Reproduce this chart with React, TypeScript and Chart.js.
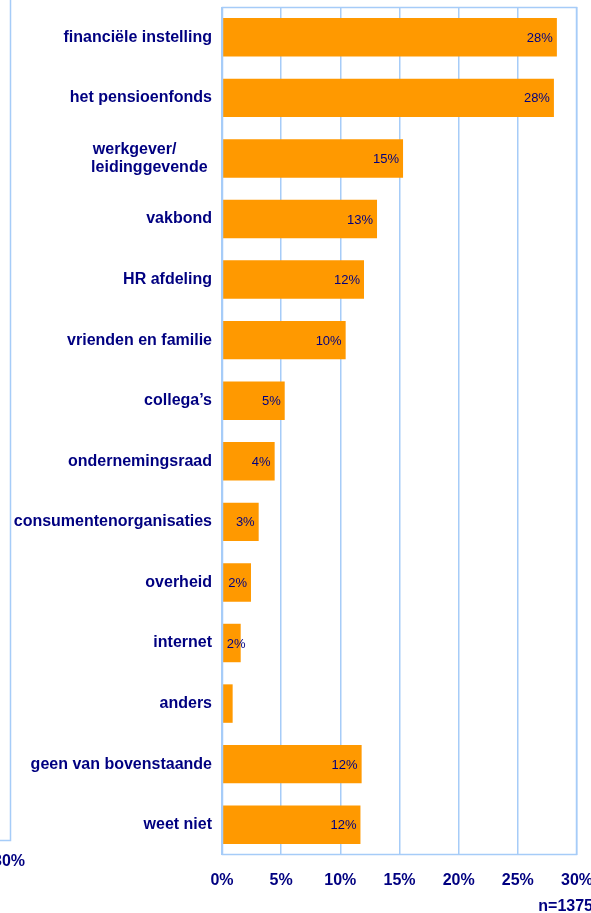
import React, { useEffect, useRef } from "react";
import { Chart, registerables } from "chart.js";

Chart.register(...registerables);

const categories: (string | string[])[] = [
  "financiële instelling",
  "het pensioenfonds",
  ["werkgever/        ", "leidinggevende "],
  "vakbond",
  "HR afdeling",
  "vrienden en familie",
  "collega’s",
  "ondernemingsraad",
  "consumentenorganisaties",
  "overheid",
  "internet",
  "anders",
  "geen van bovenstaande",
  "weet niet",
];

const values: number[] = [28.3, 28.05, 15.3, 13.1, 12.0, 10.45, 5.3, 4.45, 3.1, 2.45, 1.58, 0.9, 11.8, 11.7];

const xTickLabels: string[] = ["0%", "5%", "10%", "15%", "20%", "25%", "30%"];

const sampleNote = "n=1375";
const ghostTick = "30%";

const NAVY = "#000080";
const GRID = "#A6CCF8";
const BAR = "#FF9900";
const FONT = "'Liberation Sans', Arial, sans-serif";

const extrasPlugin = {
  id: "extras",
  afterDraw(chart: any) {
    const { ctx, chartArea } = chart;
    ctx.save();
    // plot box
    ctx.strokeStyle = GRID;
    ctx.lineWidth = 1.5;
    ctx.strokeRect(
      Math.round(chartArea.left) + 0.5,
      Math.round(chartArea.top) + 0.5,
      Math.round(chartArea.right - chartArea.left) - 1,
      Math.round(chartArea.bottom - chartArea.top) - 1
    );
    // remnant of neighbouring chart at left edge
    ctx.beginPath();
    ctx.moveTo(10.5, 0);
    ctx.lineTo(10.5, 840.5);
    ctx.lineTo(0, 840.5);
    ctx.stroke();
    ctx.fillStyle = NAVY;
    ctx.font = `bold 16px ${FONT}`;
    ctx.textAlign = "center";
    ctx.textBaseline = "middle";
    ctx.fillText(ghostTick, 9, 862);
    // sample note
    ctx.textAlign = "right";
    ctx.fillText(sampleNote, 593, 907);

    // data labels
    const meta = chart.getDatasetMeta(0);
    ctx.font = `13px ${FONT}`;
    ctx.textAlign = "left";
    ctx.textBaseline = "middle";
    meta.data.forEach((bar: any, i: number) => {
      const v = values[i];
      if (v < 1) return;
      const txt = Math.round(v) + "%";
      const w = ctx.measureText(txt).width;
      let x = bar.x - 4 - w;
      if (x < bar.base + 4) x = bar.base + 4;
      ctx.fillText(txt, x, bar.y + 1);
    });
    ctx.restore();
  },
};

export default function App() {
  const ref = useRef<HTMLCanvasElement | null>(null);
  useEffect(() => {
    if (!ref.current) return;
    const chart = new Chart(ref.current, {
      type: "bar",
      data: {
        labels: categories,
        datasets: [
          {
            data: values,
            backgroundColor: BAR,
            borderWidth: 0,
            barPercentage: 0.635,
            categoryPercentage: 1,
          },
        ],
      },
      options: {
        indexAxis: "y",
        animation: false,
        responsive: false,
        devicePixelRatio: 1,
        layout: { padding: { top: 7, right: 14, left: 0, bottom: 0 } },
        plugins: { legend: { display: false }, tooltip: { enabled: false } },
        scales: {
          x: {
            min: 0,
            max: 30,
            ticks: {
              stepSize: 5,
              color: NAVY,
              font: { family: FONT, size: 16, weight: "bold" },
              padding: 16,
              maxRotation: 0,
              callback: (_v: any, i: number) => xTickLabels[i],
            },
            grid: { color: GRID, lineWidth: 1.5, drawTicks: false },
            border: { display: false },
            afterFit: (s: any) => {
              s.height = 58;
              s.paddingLeft = 0;
              s.paddingRight = 0;
              s.paddingTop = 0;
              s.paddingBottom = 0;
            },
          },
          y: {
            ticks: {
              color: NAVY,
              font: { family: FONT, size: 16, weight: "bold", lineHeight: 1.15 },
              padding: 10,
            },
            grid: { display: false, drawTicks: false },
            border: { display: false },
            afterFit: (s: any) => {
              s.width = 222;
              s.paddingLeft = 0;
              s.paddingRight = 0;
              s.paddingTop = 0;
              s.paddingBottom = 0;
            },
          },
        },
      },
      plugins: [extrasPlugin],
    } as any);
    return () => chart.destroy();
  }, []);
  return (
    <div style={{ position: "fixed", left: 0, top: 0, width: 591, height: 913, background: "#fff" }}>
      <canvas ref={ref} width={591} height={913} style={{ display: "block" }} />
    </div>
  );
}
